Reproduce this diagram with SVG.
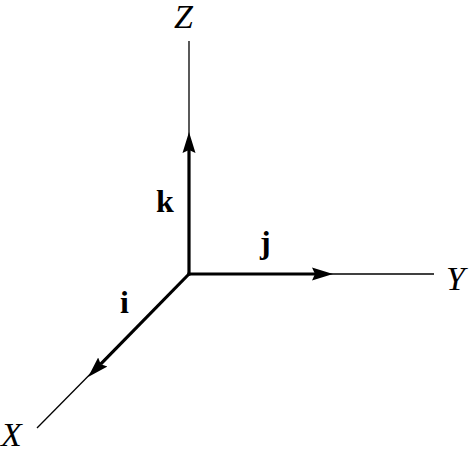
<svg xmlns="http://www.w3.org/2000/svg" width="475" height="450" viewBox="0 0 475 450">
<style>
.axis{stroke:#000;stroke-width:1.3;fill:none}
.vec{stroke:#000;stroke-width:3.2;fill:none;marker-end:url(#ah)}
.ax{font-family:"Liberation Serif",serif;font-style:italic;font-size:34px;fill:#000}
.bv{font-family:"Liberation Serif",serif;font-weight:bold;font-size:32px;fill:#000}
</style>
<defs>
<marker id="ah" markerUnits="userSpaceOnUse" markerWidth="24" markerHeight="16" viewBox="0 -8 24 16" refX="3" refY="0" orient="auto">
<path d="M0,-6.5 L21,0 L0,6.5 L3,0 Z" fill="#000"/>
</marker>
</defs>
<g id="connectors">
<line class="axis" x1="189" y1="41" x2="189" y2="274"/>
<line class="axis" x1="189" y1="274" x2="434" y2="274"/>
<line class="axis" x1="189" y1="274" x2="37" y2="428"/>
<line class="vec" x1="189" y1="275.5" x2="189" y2="150"/>
<line class="vec" x1="187.5" y1="274" x2="315" y2="274"/>
<line class="vec" x1="189" y1="274" x2="100.7" y2="364.2"/>
</g>
<g id="Z"><text class="ax" x="174" y="28">Z</text></g>
<g id="Y"><text class="ax" x="446" y="290">Y</text></g>
<g id="X"><text class="ax" x="1" y="446">X</text></g>
<g id="k"><text class="bv" x="156" y="212">k</text></g>
<g id="j"><text class="bv" x="260" y="253">j</text></g>
<g id="i"><text class="bv" x="120" y="313">i</text></g>
</svg>
